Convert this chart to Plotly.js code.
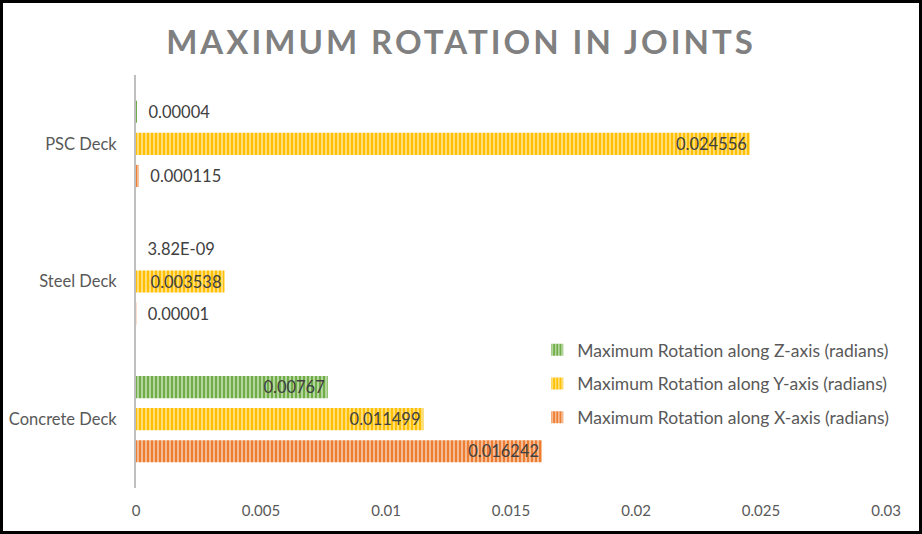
<!DOCTYPE html>
<html>
<head>
<meta charset="utf-8">
<script src="https://cdn.plot.ly/plotly-3.0.1.min.js"></script>
<style>
html,body{margin:0;padding:0;background:#fff;}
#chart{width:922px;height:534px;box-sizing:border-box;border:3px solid #000;}
</style>
</head>
<body>
<div id="chart"></div>
<script>
const categories = ["Concrete Deck", "Steel Deck", "PSC Deck"];
const seriesNames = [
  "Maximum Rotation along X-axis (radians)",
  "Maximum Rotation along Y-axis (radians)",
  "Maximum Rotation along Z-axis (radians)"
];
const rotX = [0.016242, 0.00001, 0.000115];
const rotY = [0.011499, 0.003538, 0.024556];
const rotZ = [0.00767, 3.82e-9, 0.00004];
const labelsX = ["0.016242", "0.00001", "0.000115"];
const labelsY = ["0.011499", "0.003538", "0.024556"];
const labelsZ = ["0.00767", "3.82E-09", "0.00004"];
const tickValues = [0, 0.005, 0.01, 0.015, 0.02, 0.025, 0.03];
const tickLabels = ["0", "0.005", "0.01", "0.015", "0.02", "0.025", "0.03"];

const colors = ["#ED7D31", "#FFC000", "#70AD47"];
const lights = ["#F8CBAD", "#FFE699", "#C5E0B4"];
const FONT = "Lato, 'Open Sans', sans-serif";

function isInside(v){ return v > 0.003; }

const series = [[rotX, labelsX], [rotY, labelsY], [rotZ, labelsZ]];
const traces = series.map((s, i) => ({
  type: "bar",
  orientation: "h",
  name: seriesNames[i],
  y: categories,
  x: s[0],
  text: s[1],
  texttemplate: s[0].map(v => isInside(v) ? "%{text}" : "\u00a0\u00a0%{text}"),
  textposition: s[0].map(v => isInside(v) ? "inside" : "outside"),
  insidetextanchor: "end",
  constraintext: "none",
  cliponaxis: false,
  textfont: {family: FONT, size: 16.5, color: "#404040"},
  insidetextfont: {family: FONT, size: 16.5, color: "#404040"},
  outsidetextfont: {family: FONT, size: 16.5, color: "#404040"},
  legendgroup: "g" + i,
  legendrank: 3 - i,
  hoverinfo: "x+name",
  marker: {
    color: colors[i],
    line: {width: 0},
    pattern: {shape: "|", fgcolor: lights[i], bgcolor: colors[i], size: 4, solidity: 0.4, fillmode: "replace"}
  }
}));

const layout = {
  width: 916, height: 528,
  margin: {l: 133, r: 33, t: 72, b: 43},
  paper_bgcolor: "#fff", plot_bgcolor: "#fff",
  title: {
    text: "<b>MAXIMUM ROTATION IN JOINTS</b>",
    font: {family: FONT, size: 33, color: "#808080"},
    x: 0.5, xanchor: "center", y: 0.925, yanchor: "middle"
  },
  barmode: "group",
  bargap: 0.3,
  bargroupgap: 0.31,
  showlegend: true,
  legend: {
    x: 0.535, xanchor: "left", y: 0.378, yanchor: "top",
    traceorder: "grouped",
    tracegroupgap: 8,
    font: {family: FONT, size: 17.5, color: "#595959"},
    bgcolor: "rgba(0,0,0,0)",
    itemwidth: 30
  },
  xaxis: {
    range: [0, 0.03],
    tickvals: tickValues, ticktext: tickLabels,
    showgrid: false, zeroline: false, showline: false,
    ticks: "", ticklabelstandoff: 12,
    tickfont: {family: FONT, size: 15, color: "#595959"},
    fixedrange: true
  },
  yaxis: {
    type: "category",
    categoryorder: "array", categoryarray: categories,
    showgrid: false, zeroline: false,
    showline: true, linecolor: "#BFBFBF", linewidth: 2,
    ticks: "", ticklabelstandoff: 14,
    tickfont: {family: FONT, size: 16.5, color: "#595959"},
    fixedrange: true
  }
};

Plotly.newPlot("chart", traces, layout, {displayModeBar: false, staticPlot: true}).then(() => {
  const t = document.querySelector(".gtitle");
  if (t) t.style.letterSpacing = "3px";
});
</script>
</body>
</html>
